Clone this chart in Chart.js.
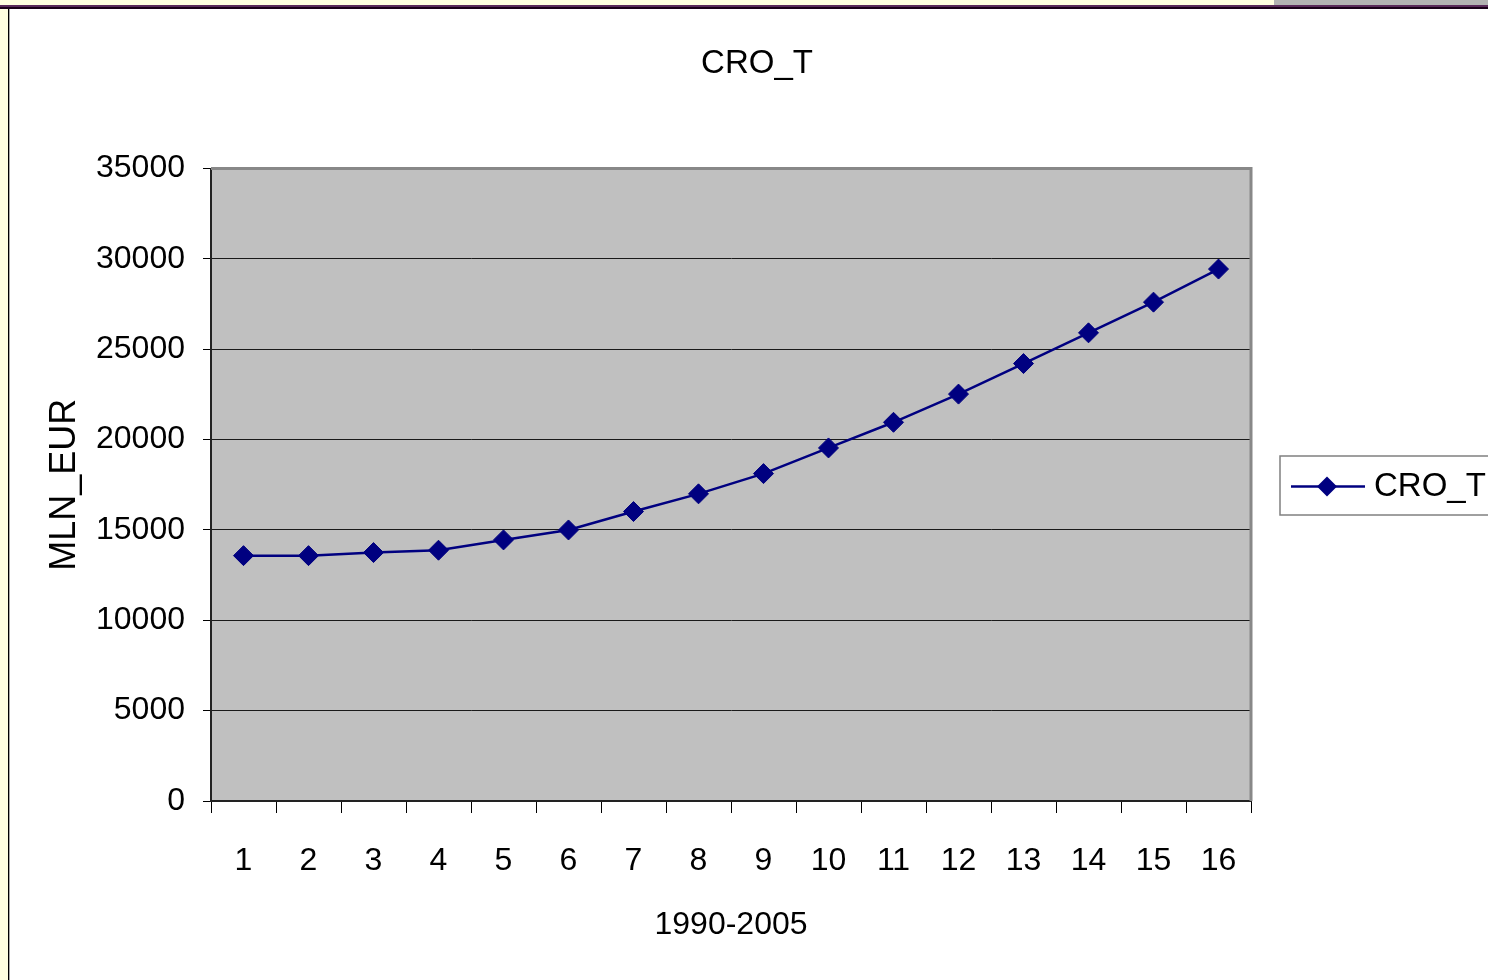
<!DOCTYPE html>
<html>
<head>
<meta charset="utf-8">
<title>CRO_T</title>
<script src="https://cdn.jsdelivr.net/npm/chart.js"></script>
<style>
    body { margin: 0; background: #fff; overflow: hidden; width: 1488px; height: 980px; position: relative; }
    #strip-top { position: absolute; left: 0; top: 0; width: 1274px; height: 5px; background: #ffffe0; }
    #strip-top-gray { position: absolute; left: 1274px; top: 0; width: 214px; height: 5px; background: #b3b3b3; }
    #bar-purple { position: absolute; left: 0; top: 5px; width: 1488px; height: 2px; background: #5a2a5a; }
    #bar-dark { position: absolute; left: 0; top: 7px; width: 1488px; height: 2px; background: #1a001a; }
    #strip-left { position: absolute; left: 0; top: 9px; width: 8px; height: 971px; background: #ffffe0; }
    #line-left { position: absolute; left: 8px; top: 9px; width: 1px; height: 971px; background: #000; }
    #line-left2 { position: absolute; left: 9px; top: 9px; width: 1px; height: 971px; background: #a8a8a8; }
    #stat-chart { position: absolute; left: 10px; top: 9px; }
</style>
</head>
<body>
<div id="strip-top"></div>
<div id="strip-top-gray"></div>
<div id="bar-purple"></div>
<div id="bar-dark"></div>
<div id="strip-left"></div>
<div id="line-left"></div>
<div id="line-left2"></div>
<canvas id="stat-chart" width="1520" height="971"></canvas>
<script>
const years = ["1", "2", "3", "4", "5", "6", "7", "8", "9", "10", "11", "12", "13", "14", "15", "16"]
const croT = [13580, 13580, 13750, 13880, 14450, 15000, 16020, 17000, 18120, 19540, 20960, 22520, 24210, 25910, 27610, 29440]
const seriesName = "CRO_T"
const xTitle = "1990-2005"
const yTitle = "MLN_EUR"

const navy = "#000080"
const font = "'Liberation Sans', Arial, sans-serif"

// plot background, grey frame and the boxed legend, the way Excel draws them
const excelLook = {
    id: "excelLook",
    afterLayout(chart) {
        // Excel centres the title over the whole chart object, legend included
        chart.titleBlock.left = 0
        chart.titleBlock.right = 1494
    },
    beforeDraw(chart) {
        const { ctx, chartArea: a } = chart
        ctx.save()
        ctx.fillStyle = "#c0c0c0"
        ctx.fillRect(a.left, a.top, a.width, a.height)
        ctx.restore()
    },
    beforeDatasetsDraw(chart) {
        const { ctx, chartArea: a } = chart
        ctx.save()
        ctx.strokeStyle = "#888888"
        ctx.lineWidth = 3
        ctx.beginPath()
        ctx.moveTo(a.left, a.top)
        ctx.lineTo(a.right, a.top)
        ctx.lineTo(a.right, a.bottom)
        ctx.stroke()
        ctx.restore()
    },
    afterDraw(chart) {
        const ctx = chart.ctx
        const ds = chart.data.datasets[0]
        const x0 = 1270, y0 = 447, h = 59
        const cy = y0 + h / 2 + 1
        ctx.save()
        ctx.fillStyle = "#fff"
        ctx.fillRect(x0, y0, 300, h)
        ctx.strokeStyle = "#808080"
        ctx.lineWidth = 1.5
        ctx.strokeRect(x0, y0, 300, h)
        ctx.strokeStyle = ds.borderColor
        ctx.lineWidth = 2.5
        ctx.beginPath()
        ctx.moveTo(x0 + 11, cy)
        ctx.lineTo(x0 + 85, cy)
        ctx.stroke()
        const mx = x0 + 47, r = 10
        ctx.fillStyle = ds.pointBackgroundColor
        ctx.beginPath()
        ctx.moveTo(mx - r, cy)
        ctx.lineTo(mx, cy - r)
        ctx.lineTo(mx + r, cy)
        ctx.lineTo(mx, cy + r)
        ctx.closePath()
        ctx.fill()
        ctx.fillStyle = "#000"
        ctx.font = "33px " + font
        ctx.textBaseline = "middle"
        ctx.fillText(ds.label, x0 + 94, cy)
        ctx.restore()
    }
}

const ctx = document.getElementById("stat-chart").getContext("2d")

const myChart = new Chart(ctx, {
    type: "line",
    data: {
        labels: years,
        datasets: [{
            label: seriesName,
            data: croT,
            borderColor: navy,
            backgroundColor: navy,
            borderWidth: 2.5,
            pointStyle: "rectRot",
            pointRadius: 10,
            pointBorderWidth: 1,
            pointBackgroundColor: navy,
            pointBorderColor: navy,
            tension: 0
        }]
    },
    options: {
        responsive: false,
        animation: false,
        layout: {
            padding: { left: 0, right: 279, top: 0, bottom: 20 }
        },
        plugins: {
            legend: { display: false },
            tooltip: { enabled: false },
            title: {
                display: true,
                text: seriesName,
                color: "#000",
                font: { family: font, size: 33, weight: "normal" },
                padding: { top: 35, bottom: 85 }
            }
        },
        scales: {
            x: {
                offset: true,
                grid: {
                    display: true,
                    offset: true,
                    drawOnChartArea: false,
                    drawTicks: true,
                    tickLength: 12,
                    color: "#000",
                    lineWidth: 1
                },
                border: { display: true, color: "#222", width: 2 },
                ticks: {
                    color: "#000",
                    font: { family: font, size: 32 },
                    padding: 29,
                    maxRotation: 0,
                    autoSkip: false
                },
                title: {
                    display: true,
                    text: xTitle,
                    color: "#000",
                    font: { family: font, size: 32 },
                    padding: { top: 0, bottom: 16 }
                },
                afterFit: s => { s.height = 159 }
            },
            y: {
                min: 0,
                max: 35000,
                grid: {
                    color: "#1a1a1a",
                    lineWidth: 1,
                    tickLength: 8,
                    tickColor: "#000"
                },
                border: { display: true, color: "#222", width: 2 },
                ticks: {
                    stepSize: 5000,
                    color: "#000",
                    font: { family: font, size: 32 },
                    padding: 18,
                    callback: v => String(v)
                },
                title: {
                    display: true,
                    text: yTitle,
                    color: "#000",
                    font: { family: font, size: 36 },
                    padding: { top: 33, bottom: 0 }
                },
                afterFit: s => { s.width = 201 }
            }
        }
    },
    plugins: [excelLook]
})
</script>
</body>
</html>
